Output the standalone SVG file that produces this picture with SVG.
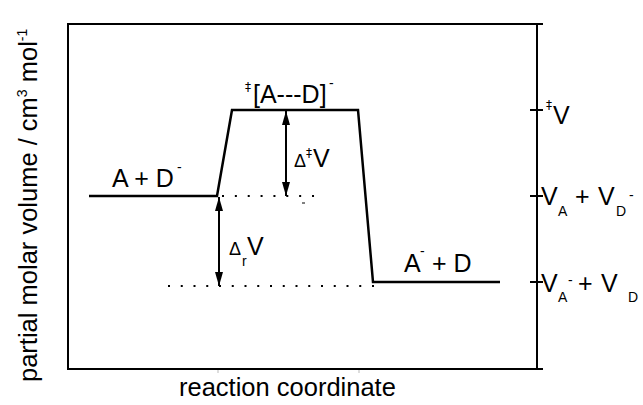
<svg xmlns="http://www.w3.org/2000/svg" width="643" height="405" viewBox="0 0 643 405">
<style>
text{font-family:"Liberation Sans",Arial,sans-serif;fill:#000}
.m{font-size:25px}
.b{font-size:25.5px}
.s{font-size:14px}
.dg{font-family:"DejaVu Sans",sans-serif;font-size:12px}
.d{font-size:18px}
.ax{stroke:#000;stroke-width:2;fill:none}
.lv{stroke:#000;stroke-width:2.5;fill:none;stroke-linejoin:miter}
.dot{stroke:#000;stroke-width:2}
.arr{stroke:#000;stroke-width:2;marker-start:url(#ah);marker-end:url(#ah)}
</style>
<defs>
<marker id="ah" viewBox="0 0 14 8" refX="14" refY="4" markerWidth="14" markerHeight="8" markerUnits="userSpaceOnUse" orient="auto-start-reverse">
<path d="M0,0 L14,4 L0,8 z" fill="#000"/>
</marker>
</defs>
<g id="frame">
<line class="ax" x1="68" y1="24" x2="543" y2="24"/>
<line class="ax" x1="68" y1="369" x2="543" y2="369"/>
<line class="ax" x1="68" y1="23" x2="68" y2="370"/>
<line class="ax" x1="537" y1="23" x2="537" y2="370"/>
<line class="ax" x1="530" y1="110" x2="543" y2="110"/>
<line class="ax" x1="530" y1="196" x2="543" y2="196"/>
<line class="ax" x1="530" y1="282" x2="543" y2="282"/>
<line x1="218" y1="370" x2="218" y2="373" stroke="#bbb" stroke-width="1"/>
<line x1="359" y1="370" x2="359" y2="373" stroke="#bbb" stroke-width="1"/>
</g>
<g id="profile">
<path class="lv" d="M89,196 L217,196 L232,110 L358,110 L373,282 L500,282"/>
</g>
<g id="guides">
<line class="dot" x1="222" y1="196" x2="316" y2="196" stroke-dasharray="2 10.86"/>
<line class="dot" x1="168" y1="286" x2="375" y2="286" stroke-dasharray="2 10.75"/>
<line x1="302" y1="203" x2="305" y2="203" stroke="#000" stroke-width="1"/>
</g>
<g id="connectors">
<line class="arr" x1="286" y1="111" x2="286" y2="196"/>
<line class="arr" x1="219" y1="197" x2="219" y2="286"/>
</g>
<g id="labels">
<text class="b" transform="translate(37,382) rotate(-90)">partial molar volume / cm<tspan class="s" dy="-10">3</tspan><tspan dy="10"> mol</tspan><tspan class="s" dy="-10">-1</tspan></text>
<text class="b" x="179" y="396">reaction coordinate</text>
<text class="m" x="112" y="187">A + D</text>
<text class="s" x="177" y="172">-</text>
<text class="m" x="404" y="272">A</text>
<text class="s" x="420" y="256">-</text>
<text class="m" x="432" y="272">+ D</text>
<text class="dg" x="245" y="91">‡</text>
<text class="m" x="253" y="103">[A---D]</text>
<text class="s" x="329" y="88">-</text>
<text class="d" x="294" y="167">Δ</text>
<text class="dg" x="306" y="157">‡</text>
<text class="m" x="313" y="167">V</text>
<text class="d" x="229" y="255">Δ</text>
<text class="s" x="242" y="266">r</text>
<text class="m" x="247" y="255">V</text>
<text class="dg" x="546" y="109">‡</text>
<text class="m" x="553" y="124">V</text>
<text class="m" x="541" y="205">V</text>
<text class="s" x="558" y="216">A</text>
<text class="m" x="575" y="205">+</text>
<text class="m" x="598" y="205">V</text>
<text class="s" x="616" y="216">D</text>
<text class="s" x="629" y="200">-</text>
<text class="m" x="541" y="292">V</text>
<text class="s" x="558" y="302">A</text>
<text class="s" x="568" y="285">-</text>
<text class="m" x="578" y="292">+</text>
<text class="m" x="601" y="292">V</text>
<text class="s" x="628" y="302">D</text>
</g>
</svg>
